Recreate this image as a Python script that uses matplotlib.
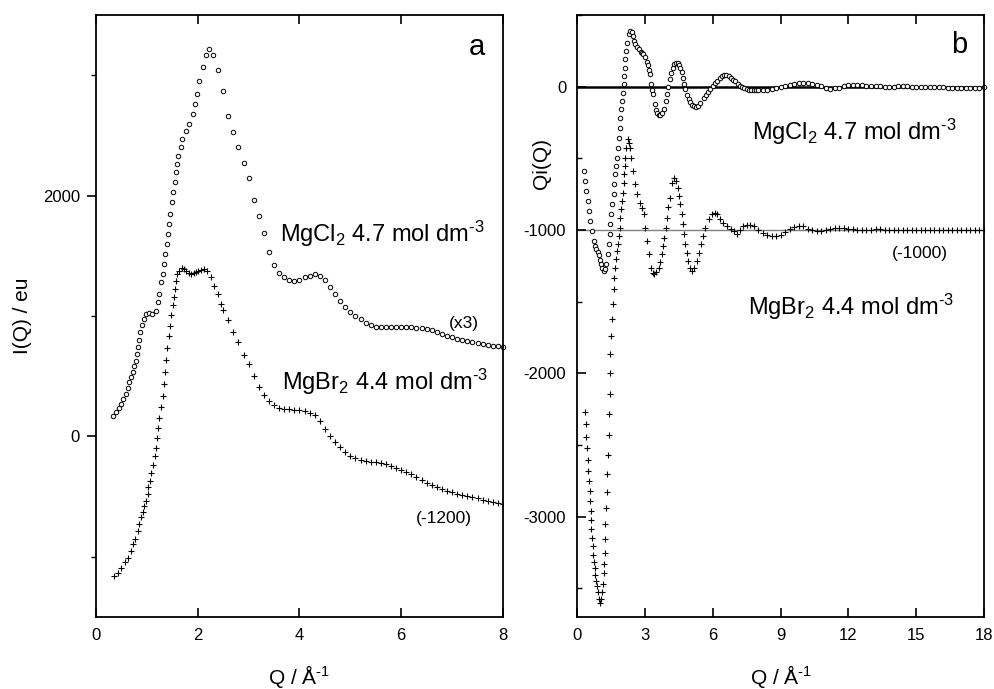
import matplotlib
matplotlib.use("Agg")
import matplotlib.pyplot as plt
from matplotlib.ticker import MultipleLocator

plt.rcParams['font.family'] = ['Liberation Sans', 'DejaVu Sans']
plt.rcParams['mathtext.fontset'] = 'custom'
plt.rcParams['mathtext.rm'] = 'Liberation Sans'
plt.rcParams['mathtext.it'] = 'Liberation Sans:italic'
plt.rcParams['mathtext.default'] = 'regular'
plt.rcParams['axes.unicode_minus'] = False

# ---- panel a : I(Q) ----
# MgCl2 4.7 mol dm-3 (x3)
q_cl_a = [0.34, 0.39, 0.45, 0.49, 0.54, 0.59, 0.63, 0.65, 0.69, 0.72, 0.75, 0.79, 0.80,
          0.82, 0.84, 0.86, 0.90, 0.95, 0.98, 1.05, 1.11, 1.17, 1.21, 1.24, 1.28, 1.31,
          1.34, 1.36, 1.39, 1.41, 1.44, 1.45, 1.49, 1.52, 1.55, 1.57, 1.60, 1.62, 1.67,
          1.70, 1.77, 1.83, 1.90, 1.95, 1.98, 2.03, 2.10, 2.16, 2.23,
          2.3, 2.4, 2.5, 2.6, 2.7, 2.8, 2.9, 3.0, 3.1, 3.2, 3.3, 3.4, 3.5, 3.6, 3.7,
          3.8, 3.9, 4.0, 4.1, 4.2, 4.3, 4.4, 4.5, 4.6, 4.7, 4.8, 4.9, 5.0, 5.1, 5.2,
          5.3, 5.4, 5.5, 5.6, 5.7, 5.8, 5.9, 6.0, 6.1, 6.2, 6.3, 6.4, 6.5, 6.6, 6.7,
          6.8, 6.9, 7.0, 7.1, 7.2, 7.3, 7.4, 7.5, 7.6, 7.7, 7.8, 7.9, 8.0]
i_cl_a = [166, 199, 233, 268, 310, 352, 399, 449, 490, 537, 587, 628, 684,
          740, 803, 864, 925, 975, 1017, 1025, 1017, 1044, 1114, 1183, 1280, 1349,
          1432, 1515, 1599, 1682, 1765, 1848, 1945, 2028, 2111, 2194, 2263, 2333, 2402,
          2471, 2540, 2596, 2679, 2762, 2845, 2956, 3067, 3164, 3215,
          3170, 3040, 2870, 2665, 2527, 2400, 2275, 2150, 1960, 1830, 1690, 1530, 1420, 1360, 1320,
          1300, 1294, 1300, 1320, 1335, 1345, 1330, 1295, 1240, 1180, 1125, 1075, 1030, 1000, 975,
          945, 925, 912, 906, 905, 905, 906, 906, 906, 905, 902, 897, 890, 880, 866,
          852, 838, 825, 813, 803, 793, 783, 775, 767, 760, 753, 747, 740]

# MgBr2 4.4 mol dm-3 (-1200)
q_br_a = [0.36, 0.43, 0.49, 0.56, 0.62, 0.69, 0.73, 0.77, 0.82, 0.85, 0.88, 0.92, 0.95,
          0.98, 1.02, 1.03, 1.06, 1.09, 1.13, 1.15, 1.17, 1.19, 1.22, 1.24, 1.28, 1.31,
          1.33, 1.35, 1.38, 1.40, 1.43, 1.45, 1.47, 1.51, 1.54, 1.55, 1.57, 1.60, 1.64,
          1.69, 1.73, 1.77, 1.82, 1.87, 1.92, 1.96, 2.01, 2.06, 2.13, 2.19, 2.26, 2.32,
          2.39, 2.46, 2.5, 2.6, 2.7, 2.8, 2.9, 3.0, 3.1, 3.2, 3.3, 3.4, 3.5, 3.6, 3.7,
          3.8, 3.9, 4.0, 4.1, 4.2, 4.3, 4.4, 4.5, 4.6, 4.7, 4.8, 4.9, 5.0, 5.1, 5.2,
          5.3, 5.4, 5.5, 5.6, 5.7, 5.8, 5.9, 6.0, 6.1, 6.2, 6.3, 6.4, 6.5, 6.6, 6.7,
          6.8, 6.9, 7.0, 7.1, 7.2, 7.3, 7.4, 7.5, 7.6, 7.7, 7.8, 7.9, 8.0]
i_br_a = [-1159, -1131, -1097, -1047, -1006, -951, -895, -848, -785, -729, -673, -632, -577,
          -535, -480, -424, -369, -305, -236, -166, -97, -17, 66, 152, 241, 337,
          437, 537, 634, 734, 831, 919, 1011, 1091, 1155, 1224, 1294, 1349, 1377,
          1399, 1390, 1377, 1360, 1349, 1355, 1363, 1375, 1382, 1391, 1371, 1321, 1252,
          1183, 1100, 1050, 970, 870, 780, 680, 600, 500, 410, 340, 290, 260, 240, 230,
          224, 220, 216, 210, 198, 175, 130, 60, 5, -45, -90, -130, -160, -180, -195,
          -203, -210, -215, -222, -232, -245, -260, -275, -292, -315, -337, -360, -383, -405, -423,
          -440, -453, -464, -475, -485, -495, -505, -515, -525, -535, -545, -555, -565]

# ---- panel b : Qi(Q) ----
q_cl_b = [0.31, 0.35, 0.40, 0.46, 0.52, 0.58, 0.65, 0.72, 0.78, 0.84, 0.90, 0.95, 1.00,
          1.05, 1.10, 1.16, 1.22, 1.28, 1.34, 1.39, 1.43, 1.46, 1.51, 1.55, 1.61, 1.64,
          1.68, 1.73, 1.76, 1.80, 1.83, 1.88, 1.90, 1.95, 1.98, 2.02, 2.05, 2.08, 2.10,
          2.12, 2.15, 2.20, 2.27, 2.33, 2.40, 2.46, 2.52, 2.57, 2.65, 2.72, 2.80, 2.86,
          2.93, 3.01, 3.07, 3.11, 3.16, 3.20, 3.26, 3.30, 3.35, 3.42, 3.48, 3.53, 3.60,
          3.67, 3.75, 3.85, 3.92, 3.97, 4.03, 4.09, 4.16, 4.23, 4.30, 4.38, 4.45, 4.52,
          4.56, 4.62, 4.68, 4.73, 4.78, 4.85, 4.93, 5.00, 5.08, 5.15, 5.25, 5.35, 5.45,
          5.59, 5.70, 5.80, 5.89, 6.0, 6.1, 6.2, 6.3, 6.4, 6.5, 6.6, 6.7, 6.8, 6.9, 7.0,
          7.1, 7.2, 7.3, 7.4, 7.5, 7.6, 7.7, 7.8, 7.9, 8.0, 8.2, 8.4, 8.6, 8.8, 9.0, 9.2,
          9.4, 9.6, 9.8, 10.0, 10.2, 10.4, 10.6, 10.8, 11.0, 11.2, 11.4, 11.6, 11.8, 12.0,
          12.2, 12.4, 12.6, 12.8, 13.0, 13.2, 13.4, 13.6, 13.8, 14.0, 14.2, 14.4, 14.6,
          14.8, 15.0, 15.2, 15.4, 15.6, 15.8, 16.0, 16.2, 16.4, 16.6, 16.8, 17.0, 17.2,
          17.4, 17.6, 17.8, 18.0]
qi_cl_b = [-589, -658, -728, -798, -868, -937, -1007, -1077, -1110, -1135, -1150, -1175, -1210,
           -1239, -1265, -1286, -1275, -1239, -1169, -1100, -1030, -960, -890, -821, -751, -681,
           -612, -553, -496, -426, -356, -286, -216, -158, -100, -42, 16, 74, 132,
           190, 248, 307, 365, 390, 380, 355, 320, 300, 275, 260, 245, 237,
           225, 205, 175, 150, 115, 86, 16, -20, -54, -123, -160, -181, -198,
           -200, -185, -158, -100, -54, 0, 51, 95, 132, 155, 167, 165, 150,
           132, 100, 63, 20, -19, -60, -89, -110, -125, -135, -140, -135, -115,
           -77, -55, -35, -19, 5, 25, 42, 60, 75, 82, 82, 74, 62, 50, 38,
           22, 8, -3, -12, -19, -22, -24, -25, -26, -26, -24, -20, -16, -10, -2, 6,
           14, 20, 24, 26, 24, 20, 12, 4, -6, -14, -12, -6, 2, 10,
           14, 14, 12, 8, 5, 3, 2, 1, 0, 1, 3, 4, 3,
           1, 0, -1, -2, -3, -4, -5, -5, -6, -6, -7, -8, -9,
           -10, -8, -6, -5]

q_br_b = [0.35, 0.38, 0.40, 0.43, 0.46, 0.49, 0.52, 0.55, 0.58, 0.59, 0.61, 0.62, 0.65,
          0.68, 0.71, 0.74, 0.77, 0.80, 0.83, 0.87, 0.92, 0.96, 1.00, 1.05, 1.09, 1.14,
          1.17, 1.19, 1.21, 1.23, 1.24, 1.27, 1.30, 1.33, 1.36, 1.40, 1.42, 1.43, 1.45,
          1.46, 1.49, 1.52, 1.56, 1.61, 1.64, 1.68, 1.73, 1.76, 1.80, 1.83, 1.88, 1.90,
          1.95, 1.98, 2.02, 2.05, 2.08, 2.10, 2.12, 2.17, 2.23, 2.28, 2.32, 2.39, 2.46,
          2.54, 2.64, 2.76, 2.86, 2.94, 3.01, 3.08, 3.16, 3.26, 3.34, 3.41, 3.50, 3.60,
          3.68, 3.75, 3.80, 3.85, 3.91, 3.97, 4.03, 4.09, 4.19, 4.29, 4.36, 4.44, 4.50,
          4.56, 4.62, 4.68, 4.73, 4.78, 4.84, 4.90, 5.00, 5.08, 5.18, 5.30, 5.38, 5.47,
          5.57, 5.67, 5.81, 5.95, 6.10, 6.20, 6.33, 6.45, 6.62, 6.80, 6.92, 7.05, 7.20,
          7.35, 7.50, 7.65, 7.80, 8.0, 8.2, 8.4, 8.6, 8.8, 9.0, 9.2, 9.4, 9.6, 9.8, 10.0,
          10.2, 10.4, 10.6, 10.8, 11.0, 11.2, 11.4, 11.6, 11.8, 12.0, 12.2, 12.4, 12.6,
          12.8, 13.0, 13.2, 13.4, 13.6, 13.8, 14.0, 14.2, 14.4, 14.6, 14.8, 15.0, 15.2,
          15.4, 15.6, 15.8, 16.0, 16.2, 16.4, 16.6, 16.8, 17.0, 17.2, 17.4, 17.6, 17.8, 18.0]
qi_br_b = [-2269, -2355, -2441, -2522, -2604, -2678, -2750, -2822, -2890, -2959, -3024, -3087, -3148,
           -3208, -3264, -3315, -3361, -3408, -3448, -3487, -3529, -3575, -3603, -3575, -3529, -3471,
           -3394, -3331, -3255, -3157, -3054, -2943, -2827, -2701, -2569, -2429, -2287, -2141, -2001,
           -1867, -1739, -1623, -1513, -1413, -1332, -1262, -1204, -1146, -1100, -1042, -983, -914,
           -856, -798, -739, -669, -612, -553, -496, -426, -367, -390, -426, -496, -588,
           -681, -751, -809, -844, -890, -983, -1077, -1169, -1262, -1300, -1309, -1295, -1262,
           -1220, -1169, -1110, -1053, -985, -914, -840, -774, -669, -635, -660, -704, -760,
           -821, -890, -960, -1030, -1100, -1160, -1216, -1265, -1286, -1265, -1216, -1160, -1100,
           -1040, -983, -925, -890, -879, -890, -925, -950, -972, -995, -1010, -1025, -1000,
           -975, -962, -962, -975, -1000, -1020, -1035, -1043, -1045, -1035, -1015, -995, -978, -970, -975,
           -990, -1003, -1008, -1005, -998, -993, -988, -986, -988, -992, -996, -1000, -1002,
           -1000, -997, -995, -995, -997, -999, -1000, -1000, -999, -998, -998, -999, -1000,
           -1000, -1000, -999, -999, -1000, -1001, -1001, -1000, -1000, -999, -1000, -1001, -1000, -1000]

fig = plt.figure(figsize=(9.95, 6.89), dpi=100)
ax1 = fig.add_axes([0.0965, 0.1045, 0.409, 0.8737])
ax2 = fig.add_axes([0.5802, 0.1045, 0.4087, 0.8737])

circ = dict(ls='none', marker='o', ms=3.2, mfc='white', mec='black', mew=0.7)
plus = dict(ls='none', marker='+', ms=4.5, color='black', mew=0.8)

lbl_cl = 'MgCl$_2$ 4.7 mol dm$^{\\text{-3}}$'
lbl_br = 'MgBr$_2$ 4.4 mol dm$^{\\text{-3}}$'
xlab = 'Q / Å$^{\\text{-1}}$'

# panel a
ax1.plot(q_br_a, i_br_a, **plus)
ax1.plot(q_cl_a, i_cl_a, clip_on=False, **circ)
ax1.set_xlim(0, 8)
ax1.set_ylim(-1500, 3500)
ax1.xaxis.set_major_locator(MultipleLocator(2))
ax1.yaxis.set_major_locator(MultipleLocator(2000))
ax1.yaxis.set_minor_locator(MultipleLocator(1000))
ax1.tick_params(axis='x', which='major', direction='in', top=True, length=6.5, width=1.2, labelsize=12, pad=8)
ax1.tick_params(axis='y', which='major', direction='out', length=6.5, width=1.2, labelsize=12, pad=5)
ax1.tick_params(axis='y', which='minor', direction='out', length=3.5, width=1.0)
ax1.set_xlabel(xlab, fontsize=15, labelpad=14)
ax1.set_ylabel('I(Q) / eu', fontsize=15, labelpad=8)

ax1.text(0.935, 0.9336, 'a', transform=ax1.transAxes, fontsize=21, ha='center', va='baseline')
ax1.text(0.452, 0.6234, lbl_cl, transform=ax1.transAxes, fontsize=17, va='baseline')
ax1.text(0.866, 0.480, '(x3)', transform=ax1.transAxes, fontsize=12.5, va='baseline')
ax1.text(0.456, 0.378, lbl_br, transform=ax1.transAxes, fontsize=17, va='baseline')
ax1.text(0.786, 0.1566, '(-1200)', transform=ax1.transAxes, fontsize=12.5, va='baseline')

# panel b
ax2.axhline(0, color='black', lw=1.8, zorder=1)
ax2.axhline(-1000, color='gray', lw=1.0, zorder=1)
ax2.plot(q_br_b, qi_br_b, **plus)
ax2.plot(q_cl_b, qi_cl_b, clip_on=False, **circ)
ax2.set_xlim(0, 18)
ax2.set_ylim(-3700, 500)
ax2.xaxis.set_major_locator(MultipleLocator(3))
ax2.yaxis.set_major_locator(MultipleLocator(1000))
ax2.yaxis.set_minor_locator(MultipleLocator(500))
ax2.tick_params(axis='x', which='major', direction='in', top=True, length=6.5, width=1.2, labelsize=12, pad=8)
ax2.tick_params(axis='y', which='major', direction='in', length=6.5, width=1.2, labelsize=12, pad=8)
ax2.tick_params(axis='y', which='minor', direction='in', length=3.5, width=1.0)
ax2.set_xlabel(xlab, fontsize=15, labelpad=14)
fig.text(0.5447, 0.7634, 'Qi(Q)', fontsize=15, rotation=90, ha='center', va='center')

ax2.text(0.939, 0.9364, 'b', transform=ax2.transAxes, fontsize=21, ha='center', va='baseline')
ax2.text(0.4288, 0.7924, lbl_cl, transform=ax2.transAxes, fontsize=17, va='baseline')
ax2.text(0.7745, 0.5963, '(-1000)', transform=ax2.transAxes, fontsize=12.5, va='baseline')
ax2.text(0.419, 0.5017, lbl_br, transform=ax2.transAxes, fontsize=17, va='baseline')

for ax in (ax1, ax2):
    for s in ax.spines.values():
        s.set_linewidth(1.3)

fig.savefig('out.png', dpi=100)
